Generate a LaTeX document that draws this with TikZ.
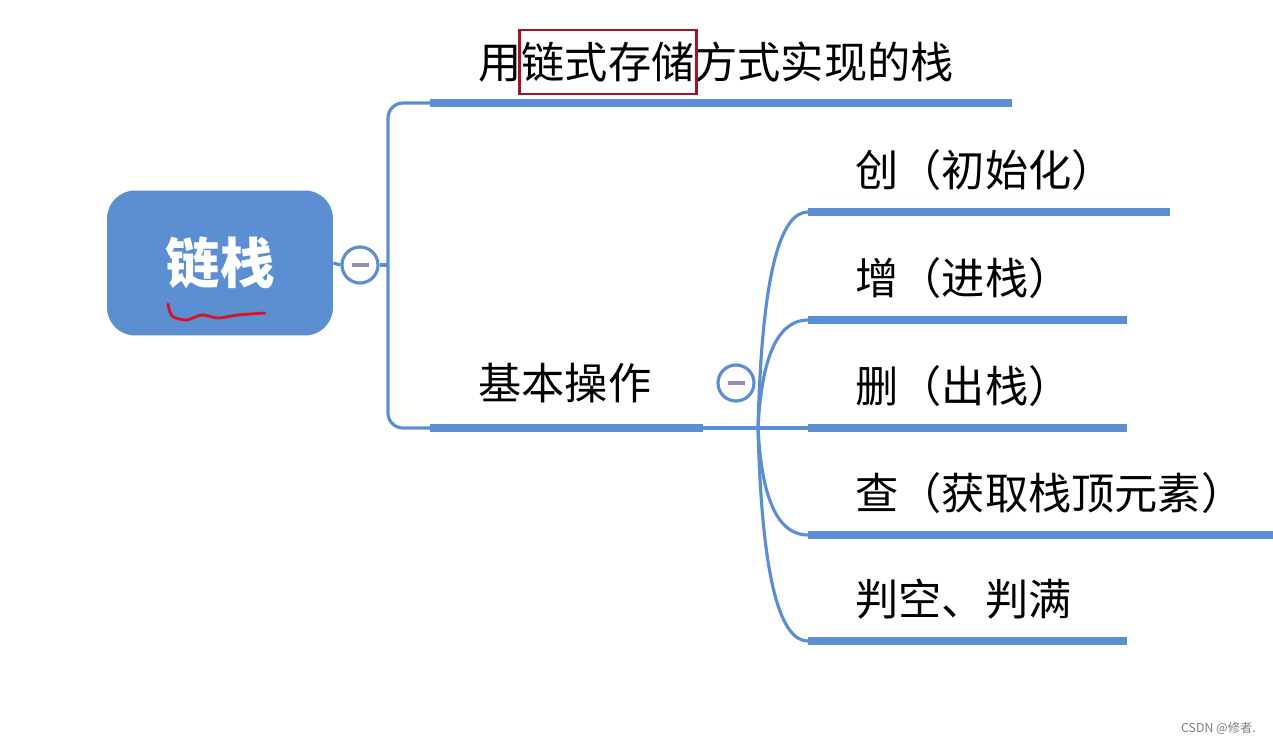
\documentclass[tikz,border=0pt]{standalone}
\usepackage{fontspec}
\setmainfont{Noto Sans CJK SC}
\usetikzlibrary{positioning}
\definecolor{mapblue}{RGB}{91,143,210}
\definecolor{minusgray}{RGB}{150,140,180}
\definecolor{boxred}{RGB}{160,22,40}
\definecolor{inkred}{RGB}{215,20,35}
\tikzset{
  rootbox/.style={rectangle, rounded corners=0.56cm, fill=mapblue, text=white,
    minimum width=4.52cm, minimum height=2.9cm, font=\fontsize{31}{36}\selectfont\bfseries},
  topic/.style={anchor=west, inner sep=0pt, font=\fontsize{24.6}{28}\selectfont},
  bar/.style={mapblue, line width=5pt},
  branch/.style={mapblue, line width=1.8pt},
  fold/.style={circle, draw=mapblue, fill=white, line width=1.8pt, minimum size=0.72cm, inner sep=0pt},
  minus/.style={minusgray, line width=1.9pt}
}
\begin{document}
\begin{tikzpicture}[x=0.02cm,y=-0.02cm]
% Draw background
\fill[white] (0,0) rectangle (1273,744);
\useasboundingbox (0,0) rectangle (1273,744);
% Draw root
\node[rootbox] (root) at (220,263) {链栈};
\draw[inkred, line width=1.6pt, line cap=round] plot[smooth] coordinates
  {(168,304) (172,316) (186,320) (202,315) (218,318) (238,315) (265,313)};
% Draw first fold button
\node[fold] (f1) at (360,265) {};
\draw[minus] ([xshift=-0.17cm]f1.center) -- ([xshift=0.17cm]f1.center);
\draw[branch] (root.east) -- (f1.west);
\coordinate (trunk) at (388,265);
\coordinate (b1s) at (430,103);
\coordinate (b1e) at (1012,103);
\coordinate (b2s) at (430,428);
\coordinate (b2e) at (703,428);
\draw[branch] (f1.east) -- (trunk);
\draw[branch, rounded corners=0.3cm] (b1s) -| (trunk) |- (b2s);
% Draw first level topics
\draw[bar] (b1s) -- (b1e);
\draw[bar] (b2s) -- (b2e);
\node[topic] (t1) at (478,62) {用链式存储方式实现的栈};
\node[topic] (t2) at (478,383) {基本操作};
\draw[boxred, line width=1.7pt] (519,30) rectangle (696,94);
% Draw second fold button
\node[fold] (f2) at (736,383) {};
\draw[minus] ([xshift=-0.17cm]f2.center) -- ([xshift=0.17cm]f2.center);
\coordinate (junc) at (758,428);
\draw[branch] (b2e) -- (808,428);
% Draw second level topics
\foreach \y/\xe/\txt [count=\i] in {212/1170/创（初始化）, 320/1127/增（进栈）,
    428/1127/删（出栈）, 535/1273/查（获取栈顶元素）, 641/1127/判空、判满} {
  \coordinate (c\i s) at (808,\y);
  \coordinate (c\i e) at (\xe,\y);
  \draw[branch] (junc) .. controls (762,{428+(\y-428)*0.75}) and (782,\y) .. (c\i s);
  \draw[bar] (c\i s) -- (c\i e);
  \node[topic] (c\i) at (855,\y-42) {\txt};
}
% Draw watermark
\node[anchor=east, text=gray, font=\fontsize{7}{8}\selectfont] (mark) at (1262,728) {CSDN @修者.};
\end{tikzpicture}
\end{document}
